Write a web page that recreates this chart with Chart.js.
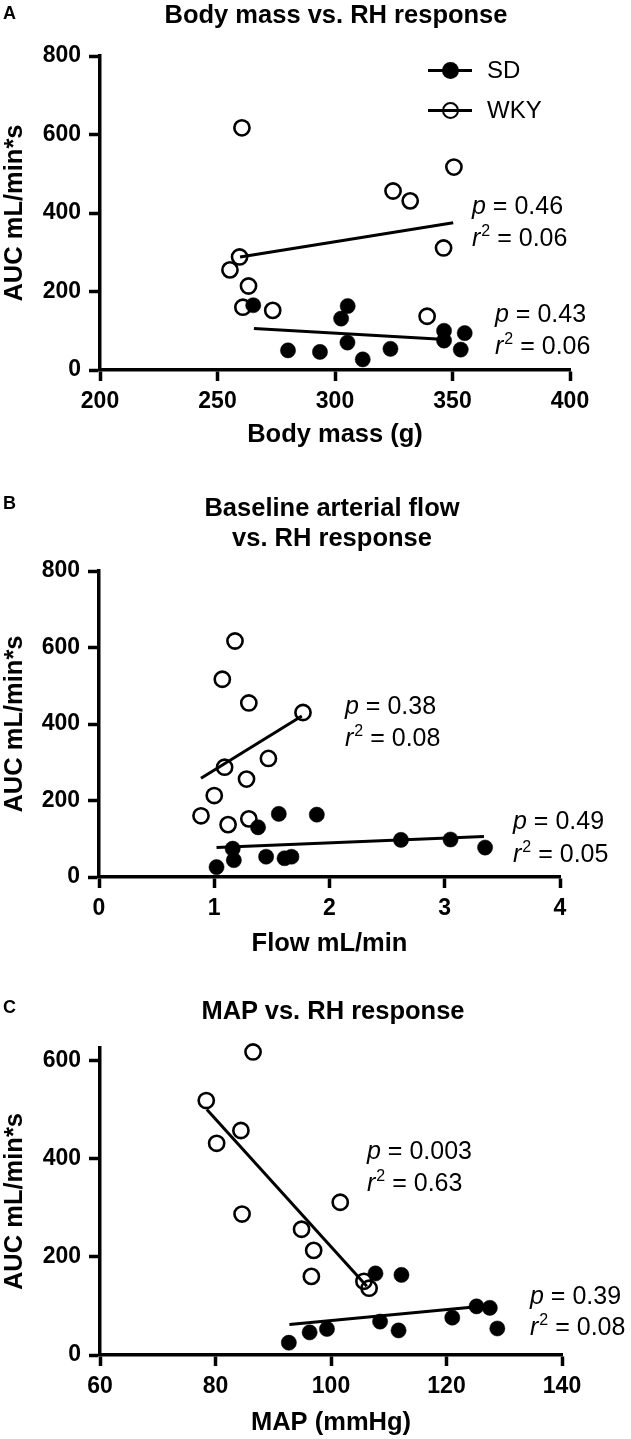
<!DOCTYPE html>
<html>
<head>
<meta charset="utf-8">
<script src="https://cdn.jsdelivr.net/npm/chart.js@4"></script>
<style>
  html, body { margin:0; padding:0; background:#fff; }
  body { width:631px; height:1439px; position:relative; overflow:hidden; font-family:"Liberation Sans", Arial, sans-serif; color:#000; }
  canvas { position:absolute; left:0; }
  .lbl { position:absolute; font-weight:bold; font-size:18px; line-height:18px; transform:translateY(-50%); }
  .ttl { position:absolute; font-weight:bold; font-size:25.5px; line-height:30px; text-align:center; transform:translate(-50%,-50%); white-space:nowrap; }
  .ann { position:absolute; font-size:25px; line-height:25px; transform:translateY(-50%); white-space:nowrap; }
  .ann sup { font-size:16px; line-height:0; position:relative; top:-1px; vertical-align:super; margin-left:1px; }
  .leg { position:absolute; font-size:24px; line-height:24px; transform:translateY(-50%); white-space:nowrap; }
  .lline { position:absolute; height:3px; background:#000; }
  .ldot { position:absolute; width:17px; height:17px; border-radius:50%; box-sizing:border-box; }
</style>
</head>
<body>
<canvas id="cA" width="631" height="460" style="top:0px"></canvas>
<canvas id="cB" width="631" height="500" style="top:460px"></canvas>
<canvas id="cC" width="631" height="479" style="top:960px"></canvas>

<div class="lbl" style="left:3px;top:13px">A</div>
<div class="ttl" style="left:336px;top:14px">Body mass vs. RH response</div>
<div class="lbl" style="left:3px;top:503px">B</div>
<div class="ttl" style="left:332px;top:522px">Baseline arterial flow<br>vs. RH response</div>
<div class="lbl" style="left:3px;top:1007px">C</div>
<div class="ttl" style="left:333px;top:1010px">MAP vs. RH response</div>

<!-- legend -->
<div class="lline" style="left:428px;top:69px;width:44px"></div>
<div class="ldot" style="left:441.5px;top:61.5px;background:#000"></div>
<div class="leg" style="left:487px;top:70px">SD</div>
<div class="lline" style="left:428px;top:109px;width:44px"></div>
<div class="ldot" style="left:441.5px;top:101.5px;border:2.5px solid #000"></div>
<div class="leg" style="left:487px;top:110px">WKY</div>

<!-- annotations -->
<div class="ann" style="left:472px;top:205px"><i>p</i> = 0.46</div>
<div class="ann" style="left:472px;top:237px"><i>r</i><sup>2</sup> = 0.06</div>
<div class="ann" style="left:495px;top:313px"><i>p</i> = 0.43</div>
<div class="ann" style="left:495px;top:345px"><i>r</i><sup>2</sup> = 0.06</div>

<div class="ann" style="left:345px;top:705px"><i>p</i> = 0.38</div>
<div class="ann" style="left:345px;top:737px"><i>r</i><sup>2</sup> = 0.08</div>
<div class="ann" style="left:513px;top:820px"><i>p</i> = 0.49</div>
<div class="ann" style="left:513px;top:853px"><i>r</i><sup>2</sup> = 0.05</div>

<div class="ann" style="left:367px;top:1150px"><i>p</i> = 0.003</div>
<div class="ann" style="left:367px;top:1182px"><i>r</i><sup>2</sup> = 0.63</div>
<div class="ann" style="left:530px;top:1295px"><i>p</i> = 0.39</div>
<div class="ann" style="left:530px;top:1326px"><i>r</i><sup>2</sup> = 0.08</div>

<script>
// ---------- DATA ----------
// Panel A: body mass (g) vs AUC
const wkyMass = [260.4, 350.6, 324.7, 332.0, 346.2, 259.4, 255.3, 263.2, 260.8, 273.5, 339.2];
const wkyAucA = [617, 517, 456, 431, 311, 288, 255, 214, 160, 152, 137];
const sdMass  = [265.2, 305.4, 302.6, 305.3, 280.0, 293.6, 311.8, 323.6, 346.4, 346.4, 355.2, 353.5];
const sdAucA  = [165, 163, 131, 70, 50, 46, 27, 54, 100, 75, 94, 52];
const wkyFitMassX = [259.6, 350.3];
const wkyFitMassY = [288, 375];
const sdFitMassX  = [265.5, 349.0];
const sdFitMassY  = [106, 77];

// Panel B: baseline flow (mL/min) vs AUC
const wkyFlow = [1.18, 1.07, 1.30, 1.77, 1.47, 1.09, 1.28, 1.00, 0.885, 1.12, 1.30];
const wkyAucB = [617, 517, 455, 430, 310, 287, 256, 213, 160, 137, 152];
const sdFlow  = [1.56, 1.89, 1.38, 1.16, 1.17, 1.02, 1.45, 1.61, 1.67, 2.62, 3.05, 3.35];
const sdAucB  = [165, 163, 130, 74, 44, 26, 53, 49, 53, 97, 98, 77];
const wkyFitFlowX = [0.885, 1.76];
const wkyFitFlowY = [258, 421];
const sdFitFlowX  = [1.02, 3.34];
const sdFitFlowY  = [77, 106];

// Panel C: MAP (mmHg) vs AUC
const wkyMap  = [86.5, 78.4, 84.4, 80.2, 101.6, 84.6, 94.9, 97.0, 96.6, 105.7, 106.6];
const wkyAucC = [617, 518, 457, 431, 311, 287, 256, 213, 160, 150, 136];
const sdMap   = [107.7, 112.2, 125.2, 127.5, 108.5, 121.0, 128.8, 111.7, 99.3, 96.3, 92.7];
const sdAucC  = [166, 163, 99, 96, 68, 76, 54, 50, 53, 46, 25];
const wkyFitMapX = [78.5, 106.2];
const wkyFitMapY = [500, 140];
const sdFitMapX  = [92.8, 125.2];
const sdFitMapY  = [62, 98];

// Tick labels
const yTicksAB = [0, 200, 400, 600, 800];
const yTicksC  = [0, 200, 400, 600];
const xTicksA  = [200, 250, 300, 350, 400];
const xTicksB  = [0, 1, 2, 3, 4];
const xTicksC  = [60, 80, 100, 120, 140];

const yTitle = 'AUC mL/min*s';
const xTitleA = 'Body mass (g)';
const xTitleB = 'Flow mL/min';
const xTitleC = 'MAP (mmHg)';

// ---------- CHARTS ----------
Chart.defaults.font.family = '"Liberation Sans", Arial, sans-serif';
Chart.defaults.color = '#000';

function pts(xs, ys) { return xs.map((x, i) => ({ x: x, y: ys[i] })); }

function makePanel(id, p) {
  const tickFont = { size: 23, weight: 'bold' };
  const titleFont = { size: 25.5, weight: 'bold' };
  const gridOpts = { drawOnChartArea: false, drawTicks: true, tickLength: 11, tickWidth: 3.5, tickColor: '#000', color: '#000' };
  new Chart(document.getElementById(id), {
    type: 'scatter',
    data: {
      datasets: [
        { label: 'WKY fit', data: pts(p.wfx, p.wfy), showLine: true, borderColor: '#000', borderWidth: 3, pointRadius: 0, clip: false },
        { label: 'SD fit', data: pts(p.sfx, p.sfy), showLine: true, borderColor: '#000', borderWidth: 3, pointRadius: 0, clip: false },
        { label: 'SD', data: pts(p.sx, p.sy), pointRadius: 7.6, pointBackgroundColor: '#000', pointBorderColor: '#000', pointBorderWidth: 0.5, clip: false },
        { label: 'WKY', data: pts(p.wx, p.wy), pointRadius: 7.6, pointBackgroundColor: 'rgba(255,255,255,0)', pointBorderColor: '#000', pointBorderWidth: 2.6, clip: false }
      ]
    },
    options: {
      responsive: false,
      animation: false,
      events: [],
      layout: { padding: { left: 0, right: p.padRight, top: p.padTop, bottom: 0 } },
      plugins: { legend: { display: false }, tooltip: { enabled: false }, title: { display: false } },
      scales: {
        x: {
          type: 'linear', min: p.xmin, max: p.xmax,
          afterBuildTicks: s => { s.ticks = p.xTicks.map(v => ({ value: v })); },
          afterFit: s => { s.height = p.xH; },
          ticks: { font: tickFont, color: '#000', padding: 7, maxRotation: 0, autoSkip: false },
          grid: gridOpts,
          border: { display: true, color: '#000', width: 3.5 },
          title: { display: true, text: p.xTitle, font: titleFont, color: '#000', padding: { top: 0, bottom: p.xTitlePad } }
        },
        y: {
          type: 'linear', min: p.ymin, max: p.ymax,
          afterBuildTicks: s => { s.ticks = p.yTicks.map(v => ({ value: v })); },
          afterFit: s => { s.width = p.yW; },
          ticks: { font: tickFont, color: '#000', padding: 8, autoSkip: false },
          grid: gridOpts,
          border: { display: true, color: '#000', width: 3.5 },
          title: { display: true, text: yTitle, font: titleFont, color: '#000', padding: { top: 0, bottom: 0 } }
        }
      }
    }
  });
}

makePanel('cA', {
  wx: wkyMass, wy: wkyAucA, sx: sdMass, sy: sdAucA,
  wfx: wkyFitMassX, wfy: wkyFitMassY, sfx: sdFitMassX, sfy: sdFitMassY,
  xmin: 200, xmax: 400, ymin: 0, ymax: 800, xTicks: xTicksA, yTicks: yTicksAB,
  xTitle: xTitleA, padTop: 56, padRight: 61, xH: 90, yW: 100, xTitlePad: 10
});
makePanel('cB', {
  wx: wkyFlow, wy: wkyAucB, sx: sdFlow, sy: sdAucB,
  wfx: wkyFitFlowX, wfy: wkyFitFlowY, sfx: sdFitFlowX, sfy: sdFitFlowY,
  xmin: 0, xmax: 4, ymin: 0, ymax: 800, xTicks: xTicksB, yTicks: yTicksAB,
  xTitle: xTitleB, padTop: 111, padRight: 71, xH: 83, yW: 99, xTitlePad: 1
});
makePanel('cC', {
  wx: wkyMap, wy: wkyAucC, sx: sdMap, sy: sdAucC,
  wfx: wkyFitMapX, wfy: wkyFitMapY, sfx: sdFitMapX, sfy: sdFitMapY,
  xmin: 60, xmax: 140, ymin: 0, ymax: 625, xTicks: xTicksC, yTicks: yTicksC,
  xTitle: xTitleC, padTop: 88, padRight: 69, xH: 84, yW: 100, xTitlePad: 1
});
</script>
</body>
</html>
